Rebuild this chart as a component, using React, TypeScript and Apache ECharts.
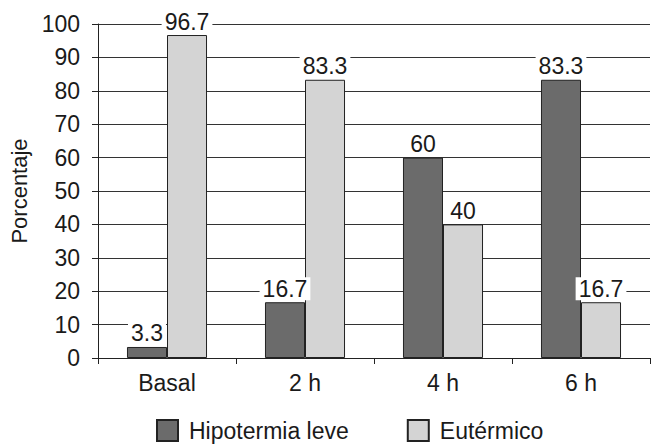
import React, { useEffect, useRef } from "react";
import * as echarts from "echarts";

const categories = ["Basal", "2 h", "4 h", "6 h"];
const hipotermia = [3.3, 16.7, 60, 83.3];
const eutermico = [96.7, 83.3, 40, 16.7];
const seriesNames = ["Hipotermia leve", "Eutérmico"];

const FONT = "'Liberation Sans', Arial, Helvetica, sans-serif";
const INK = "#1a1a1a";

export default function App() {
  const ref = useRef<HTMLDivElement>(null);

  useEffect(() => {
    document.body.style.margin = "0";
    if (!ref.current) return;
    const chart = echarts.init(ref.current, undefined, { renderer: "svg" });
    const label = {
      show: true,
      position: "top" as const,
      distance: 2,
      color: INK,
      fontSize: 23,
      fontFamily: FONT,
      backgroundColor: "#ffffff",
      padding: [0, 3, 0, 3],
    };
    chart.setOption({
      animation: false,
      backgroundColor: "#ffffff",
      textStyle: { fontFamily: FONT },
      grid: { left: 98, right: 2, top: 24, bottom: 89, containLabel: false },
      legend: {
        left: 156,
        top: 419,
        padding: 0,
        icon: "rect",
        itemWidth: 21,
        itemHeight: 21,
        itemGap: 58,
        textStyle: {
          fontSize: 23,
          lineHeight: 23,
          color: INK,
          fontFamily: FONT,
          padding: [0, 0, 0, 6],
        },
        data: seriesNames,
      },
      xAxis: {
        type: "category",
        data: categories,
        axisLine: { show: true, lineStyle: { color: "#222", width: 1 } },
        axisTick: { show: true, length: 6, inside: false, lineStyle: { color: "#222" } },
        axisLabel: { fontSize: 23, color: INK, margin: 13, fontFamily: FONT },
      },
      yAxis: {
        type: "value",
        min: 0,
        max: 100,
        interval: 10,
        name: "Porcentaje",
        nameLocation: "middle",
        nameGap: 58,
        nameRotate: 90,
        nameTextStyle: { fontSize: 22, color: INK, fontFamily: FONT },
        axisLine: { show: true, lineStyle: { color: "#222", width: 1 } },
        axisTick: { show: true, length: 6, lineStyle: { color: "#222" } },
        axisLabel: { fontSize: 23, color: INK, margin: 18, fontFamily: FONT },
        splitLine: { show: true, lineStyle: { color: "#333", width: 1 } },
      },
      series: [
        {
          name: seriesNames[0],
          type: "bar",
          data: hipotermia,
          barGap: "0%",
          barCategoryGap: "42%",
          itemStyle: { color: "#6b6b6b", borderColor: "#222", borderWidth: 1 },
          label,
        },
        {
          name: seriesNames[1],
          type: "bar",
          data: eutermico,
          itemStyle: { color: "#d4d4d4", borderColor: "#222", borderWidth: 1 },
          label,
        },
      ],
    });
    return () => chart.dispose();
  }, []);

  return <div ref={ref} style={{ width: 652, height: 447 }} />;
}
